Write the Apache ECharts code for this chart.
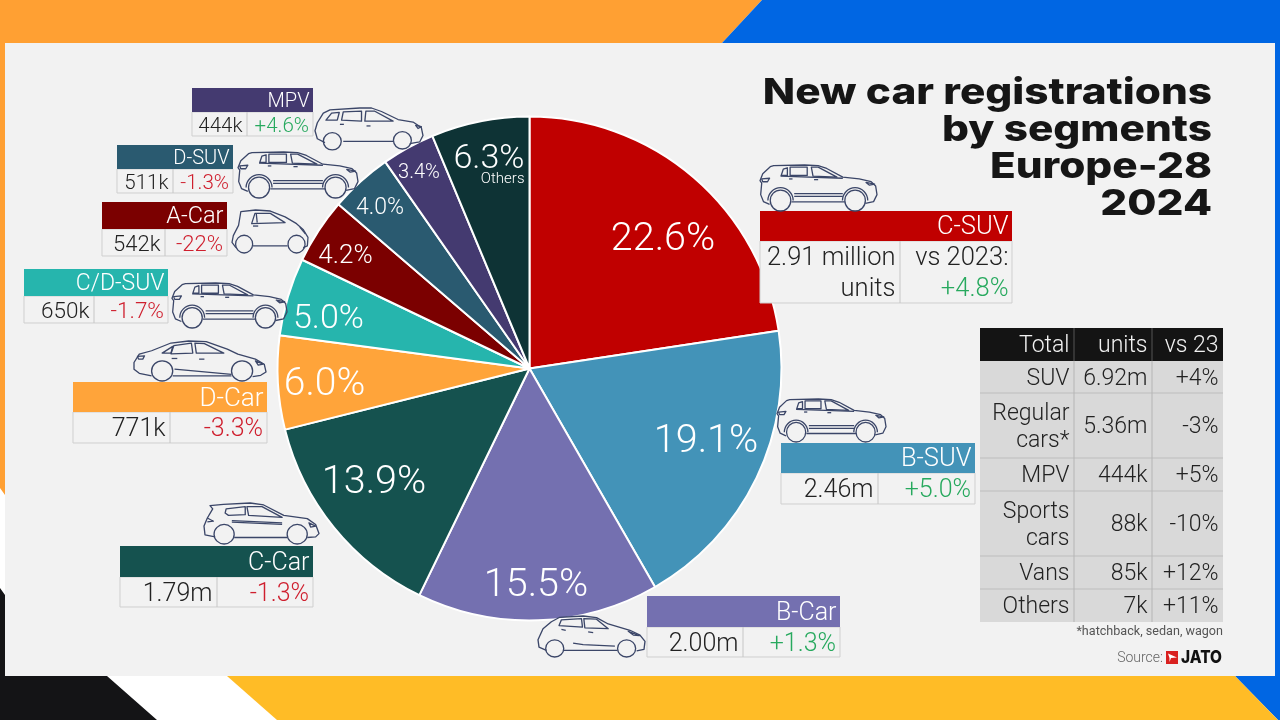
<!DOCTYPE html>
<html><head><meta charset="utf-8">
<style>html,body{margin:0;padding:0;background:#fff}#c{width:1280px;height:720px}</style>
<script src="https://cdn.jsdelivr.net/npm/echarts@6/dist/echarts.min.js"></script>
</head><body><div id="c"></div>
<script>
// ---- data ----
const segments = ['C-SUV','B-SUV','B-Car','C-Car','D-Car','C/D-SUV','A-Car','D-SUV','MPV','Others'];
const shares   = [22.6,19.1,15.5,13.9,6.0,5.0,4.2,4.0,3.4,6.3];
const units    = ['2.91 million\nunits','2.46m','2.00m','1.79m','771k','650k','542k','511k','444k'];
const changes  = ['+4.8%','+5.0%','+1.3%','-1.3%','-3.3%','-1.7%','-22%','-1.3%','+4.6%'];
const tableHead = ['Total','units','vs 23'];
const tableRows = ['SUV','Regular\ncars*','MPV','Sports\ncars','Vans','Others'];
const tableUnits = ['6.92m','5.36m','444k','88k','85k','7k'];
const tableChange = ['+4%','-3%','+5%','-10%','+12%','+11%'];
const titleLines = ['New car registrations','by segments','Europe-28','2024'];
const sliceColors = ['#C00000','#4393B8','#7470B0','#15524F','#FFA43A','#26B5AD','#7B0000','#2A5A70','#443A70','#0E3335'];

// ---- layout / style ----
const labelAt = [[663,240],[706,442],[536,586],[374,483.5],[324.5,385],[328.5,319],[345.5,256],[380,208],[419,173],[489,166]];
const labelSize = [39.5,39.5,39.5,39.5,39,34,26,23,20,34];
// x0,x1,divider,yTop,yMid,yBot,head font,row font
const cards = [
 [760,1012,900,211,241,303,25.5,25.5],[781,975,878,443,473,504,25.5,25],[647,840,743,596,627,657,25,25],
 [120,313,217,546,577,607,25,25],[73,267,170,382,412,443,26,25],[24,168,94,269,296,323,23,22.5],
 [102,227,165,202,229,256,23.5,22],[117,233,173,145,169,193,20,20.5],[192,313,247,88,112,136,20,20.5]];
const carType = ['suv','suv','hatch2','hatch','sedan','suv','city','suv','mpv'];
const carBox = [[760,165,117,46],[777,399,109,43],[538,616,107,41],[204,503,115,41],[134,341,132,40],[172,283,115,45],[232,210,76,43],[238,152,120,46],[315,108,108,41]];
const tableX = [980,1074,1152,1223];
const tableY = [328,361,393,458,491,556,589,622];
const FONT = 'Roboto';
// icon outlines as polylines (M/L/Z), wheels and wheel arches listed separately
const CARS = {
 suv:{b:[20,20,342,132],d:'M48,133L30,125L22,105L25,72L20,65L28,45L50,25L60,22L150,20L190,22L215,30L262,55L310,60L345,68L358,80L362,105L352,125L328,130M268,126L112,126M120,102L262,102M120,110L262,110M82,50L88,32L100,28L100,50ZM108,26L158,26L158,50L108,50ZM170,26L190,26L245,55L175,52ZM80,52L262,58M105,60L115,60M178,62L190,62M25,60L48,58L42,68L28,68ZM330,70L355,75L340,78Z',w:[[80,122,30],[298,122,30]],arch:37},
 mpv:{b:[15,14,325,128],d:'M45,122L22,110L15,85L22,60L40,30L60,20L150,14L185,14L215,25L265,50L310,58L335,75L340,100L330,120L300,125M100,118L250,118M48,52L65,30L88,28L82,52ZM100,26L155,24L155,55L95,52ZM168,24L195,24L250,55L165,55ZM90,65L102,65M170,70L182,70M318,68L335,72L325,78Z',w:[[67,118,27],[278,115,27]]},
 sedan:{b:[15,16,375,119],d:'M65,120L30,112L15,100L15,80L30,55L65,45L120,22L170,16L220,18L280,40L310,55L360,70L385,85L390,108L375,118L352,122M125,120L292,120M95,52L125,32L120,52ZM128,30L178,22L182,52L120,54ZM188,22L215,24L270,52L192,52ZM130,100L292,115M122,68L138,68M200,70L215,70M25,62L45,60L40,70L28,70ZM360,75L382,85L368,88Z',w:[[95,105,30],[322,105,30]]},
 hatch:{b:[12,14,343,126],d:'M45,118L15,112L12,85L22,60L38,32L30,22L70,18L150,14L190,20L250,52L320,62L345,80L355,108L345,118L320,120M102,120L260,120M78,32L135,25L135,50L85,52L75,45ZM140,25L185,25L245,58L145,52ZM95,68L245,75M95,73L245,80M22,60L40,70L22,72M325,75L345,85L330,88Z',w:[[72,110,30],[290,110,30]]},
 hatch2:{b:[15,10,320,129],d:'M40,118L18,108L15,85L30,50L55,28L80,14L150,10L190,15L225,35L290,55L320,70L335,90L332,115L310,120M92,118L253,118M120,95L150,100L245,105M85,22L145,18L148,45L78,40ZM152,18L190,20L225,50L155,47ZM85,52L98,55M165,60L180,62M285,58L318,72L300,70Z',w:[[65,112,27],[280,112,27]]},
 city:{b:[8,15,232,126],d:'M20,125L8,110L12,90L28,60L35,20L80,15L125,18L170,35L205,55L225,72L240,95L238,120L225,125M72,120L178,120M68,55L78,25L125,25L170,52ZM82,25L85,52M72,62L88,62M215,65L232,85',w:[[45,115,26],[205,115,26]]}
};

// ---- helpers ----
const gfx = [];
const poly = (pts, fill, z) => gfx.push({type:'polygon', z:z||0, silent:true, shape:{points:pts}, style:{fill}});
const rect = (x,y,w,h, fill, stroke, z) => gfx.push({type:'rect', z:z||10, silent:true, shape:{x,y,width:w,height:h}, style:{fill:fill||'transparent', stroke:stroke||null, lineWidth:stroke?1:0}});
const line = (x1,y1,x2,y2, stroke, z) => gfx.push({type:'line', z:z||11, silent:true, shape:{x1,y1,x2,y2}, style:{stroke, lineWidth:1}});
const text = (t,x,y,size,fill,o={}) => gfx.push(Object.assign({type:'text', z:12, silent:true, x, y,
  style:Object.assign({text:t, fill, fontFamily:o.family||FONT, fontSize:size, fontWeight:o.weight||300, align:o.align||'right', verticalAlign:'middle', lineHeight:o.lh||size*1.2}, o.style||{})}, o.el||{}));

// background
poly([[0,0],[1280,0],[1280,720],[0,720]],'#FFFFFF',0);
poly([[0,0],[762,0],[722,43],[5,43],[5,495],[0,488]],'#FFA033',1);
poly([[762,0],[1280,0],[1280,720],[1278,720],[1235,676],[1275,676],[1275,43],[722,43]],'#0066E3',1);
poly([[0,588],[5,595],[5,676],[107,676],[157,720],[0,720]],'#141416',1);
poly([[227,676],[1235,676],[1278,720],[277,720]],'#FFBC26',1);
poly([[5,43],[1275,43],[1275,676],[5,676]],'#F2F2F2',1);

// title
titleLines.forEach((t,i)=>text(t,0,0,36,'#161616',{family:'Inter',weight:800,el:{x:1212,y:93+37*i,scaleX:1.175}}));

// car icon: a group of polylines and circles
function carIcon(type,b){
  const k=CARS[type];
  const sx=b[2]/k.b[2], sy=b[3]/k.b[3], lw=1.3/((sx+sy)/2);
  const st={fill:null,stroke:'#3B4668',lineWidth:lw,lineJoin:'round'};
  const kids=[];
  k.d.split('M').filter(Boolean).forEach(sub=>{
    const closed=sub.endsWith('Z');
    const pts=sub.replace('Z','').split('L').map(p=>p.split(',').map(Number));
    kids.push({type:closed?'polygon':'polyline',silent:true,z:13,shape:{points:pts},style:Object.assign({},st)});
  });
  k.w.forEach(([cx,cy,r])=>{
    kids.push({type:'circle',silent:true,z:13,shape:{cx,cy,r},style:Object.assign({},st)});
    if(k.arch) kids.push({type:'arc',silent:true,z:13,shape:{cx,cy,r:k.arch,startAngle:Math.PI,endAngle:2*Math.PI},style:Object.assign({},st)});
  });
  gfx.push({type:'group',silent:true,x:b[0]-k.b[0]*sx,y:b[1]-k.b[1]*sy,scaleX:sx,scaleY:sy,children:kids});
}

// cards
cards.forEach((c,i)=>{
  const [x0,x1,dv,y0,y1,y2,hf,rf]=c;
  rect(x0,y1,x1-x0,y2-y1,'#F2F2F2','#CFCFCF');
  line(dv,y1,dv,y2,'#C6C6C6');
  rect(x0,y0,x1-x0,y1-y0,sliceColors[i],null,11);
  const cm=(y0+y1)/2, rm=(y1+y2)/2+2.5;
  text(segments[i],x1-3.5,cm+2,hf,'#FFFFFF');
  text(units[i],dv-4.5,rm,rf,'#222222',{lh:31});
  const col=changes[i][0]==='+'?'#27A95E':'#CF1F2E';
  if(i===0){
    text('vs 2023:',x1-3.5,rm-15.5,rf,'#222222');
    text(changes[i],x1-3.5,rm+15.5,rf,col);
  } else text(changes[i],x1-4,rm,rf,col);
  carIcon(carType[i],carBox[i]);
});

// side table
rect(tableX[0],tableY[1],tableX[3]-tableX[0],tableY[7]-tableY[1],'#D9D9D9');
rect(tableX[0],tableY[0],tableX[3]-tableX[0],tableY[1]-tableY[0],'#141414');
tableY.slice(2,7).forEach(y=>line(tableX[0],y,tableX[3],y,'#BDBDBD'));
tableX.slice(1,3).forEach(x=>{line(x,tableY[1],x,tableY[7],'#B5B5B5');line(x,tableY[0],x,tableY[1],'#555555');});
const TF=23;
tableHead.forEach((t,j)=>text(t,tableX[j+1]-4.5,(tableY[0]+tableY[1])/2+2,TF,'#F2F2F2'));
tableRows.forEach((t,i)=>{
  const m=(tableY[i+1]+tableY[i+2])/2+2;
  text(t,tableX[1]-4.5,m,TF,'#222222',{lh:27});
  text(tableUnits[i],tableX[2]-4.5,m,TF,'#222222');
  text(tableChange[i],tableX[3]-4.5,m,TF,'#222222');
});
text('*hatchback, sedan, wagon',1223,632,12.6,'#555555',{weight:400});
text('Source:',1163,658,14,'#666666',{weight:300});
rect(1166,651,12,13,'#D9201F',null,12);
poly([[1168,653.5],[1177,657.5],[1171,658],[1169.5,662],[1169.5,658]],'#FFFFFF',13);
text('JATO',0,0,17.5,'#111111',{family:'Inter',weight:800,el:{x:1222,y:658,scaleX:0.88}});

const pieData = segments.map((name,i)=>({name, value:shares[i], itemStyle:{color:sliceColors[i]},
  label:{fontSize:labelSize[i]}}));

const chart = echarts.init(document.getElementById('c'),null,{renderer:'canvas'});
chart.setOption({
  animation:false,
  backgroundColor:'#FFFFFF',
  graphic:{elements:gfx},
  series:[{
    type:'pie', z:5, center:[529.5,368.5], radius:[0,252], startAngle:90, clockwise:true, silent:true,
    itemStyle:{borderColor:'#FFFFFF',borderWidth:2},
    data:pieData,
    label:{show:true, position:'inside', color:'#FFFFFF', fontFamily:FONT, fontWeight:300,
      formatter:p=>{
        const v=p.value.toFixed(1)+'%';
        return p.name==='Others'?`{a|${v}}\n{b|${p.name}}`:v;
      },
      rich:{a:{fontSize:34,fontFamily:FONT,fontWeight:300,color:'#fff',align:'right',lineHeight:26},
            b:{fontSize:15,fontFamily:FONT,fontWeight:300,color:'#fff',align:'right',lineHeight:14}}},
    labelLine:{show:false},
    labelLayout:p=>{const a=labelAt[p.dataIndex];return {x:a[0],y:a[1],align:'center',verticalAlign:'middle'};}
  }]
});
</script></body></html>
